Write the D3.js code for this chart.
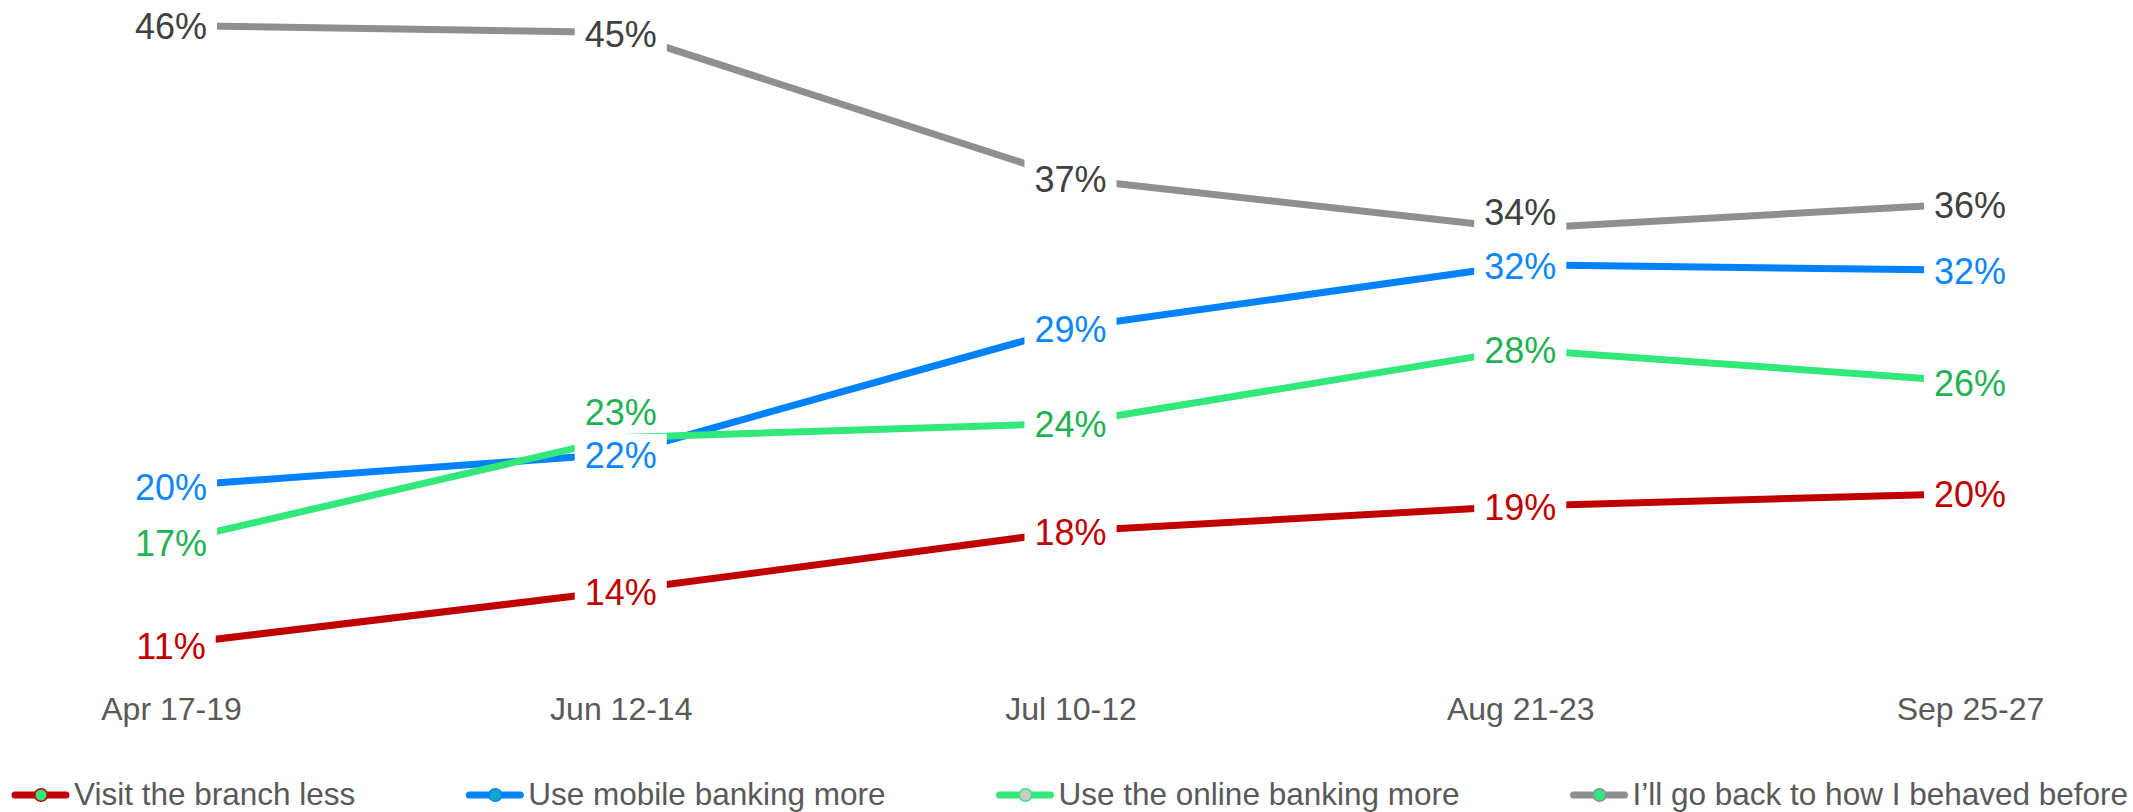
<!DOCTYPE html>
<html>
<head>
<meta charset="utf-8">
<script src="https://cdn.jsdelivr.net/npm/d3@7"></script>
<style>
  html, body { margin: 0; padding: 0; background: #ffffff; }
  svg { display: block; }
  text { font-family: Arial, "Liberation Sans", sans-serif; }
</style>
</head>
<body>
<svg id="chart" width="2133" height="812"></svg>
<script>
// ---- data ----
const categories = ["Apr 17-19", "Jun 12-14", "Jul 10-12", "Aug 21-23", "Sep 25-27"];
const seriesNames = ["Visit the branch less", "Use mobile banking more", "Use the online banking more", "I\u2019ll go back to how I behaved before"];
const visitBranchLess = [11.3, 14.3, 17.6, 19.0, 19.7];
const useMobileMore   = [20.1, 21.9, 28.9, 32.4, 32.1];
const useOnlineMore   = [17.0, 22.8, 23.6, 27.7, 25.9];
const goBackBefore    = [45.7, 45.3, 37.2, 34.4, 35.8];

// ---- styles ----
const lineColors  = ["#C00000", "#0082FF", "#33E87A", "#8F8F8F"];
const labelColors = ["#C00000", "#0D86F7", "#1EB252", "#404040"];
const markerFill  = ["#33E87A", "#17A6C8", "#C9C9C9", "#33E87A"];
// manual label nudges (series index -> point index -> dy)
const labelNudge = { 2: { 1: -27 }, 3: { 3: -17.5 } };

const seriesValues = [visitBranchLess, useMobileMore, useOnlineMore, goBackBefore];

const svg = d3.select("#chart");
const x = d3.scalePoint().domain(categories).range([171, 1970]);
const y = d3.scaleLinear().domain([0, 50]).range([848, -52]);

// x axis labels
const xAxis = d3.axisBottom(x).tickSize(0).tickPadding(3);
const gx = svg.append("g").attr("transform", "translate(0,694)").call(xAxis);
gx.select(".domain").remove();
gx.selectAll("text")
  .attr("font-size", "32px")
  .attr("fill", "#595959")
  .style("font-family", "Arial, 'Liberation Sans', sans-serif");

// lines
const line = d3.line().x((d, i) => x(categories[i])).y(d => y(d));
seriesValues.forEach((vals, s) => {
  svg.append("path")
    .datum(vals)
    .attr("d", line)
    .attr("fill", "none")
    .attr("stroke", lineColors[s])
    .attr("stroke-width", 7)
    .attr("stroke-linejoin", "round");
});

// data labels with white background
const fmt = v => Math.round(v) + "%";
seriesValues.forEach((vals, s) => {
  vals.forEach((v, i) => {
    const cx = x(categories[i]);
    const nudge = (labelNudge[s] && labelNudge[s][i]) || 0;
    const cy = y(v) + 1 + nudge;
    const g = svg.append("g");
    const rect = g.append("rect").attr("fill", "#ffffff");
    const t = g.append("text")
      .attr("x", cx)
      .attr("y", cy + 12.9)
      .attr("text-anchor", "middle")
      .attr("font-size", "36px")
      .attr("fill", labelColors[s])
      .text(fmt(v));
    const w = t.node().getComputedTextLength();
    rect.attr("x", cx - w / 2 - 10).attr("y", cy - 21).attr("width", w + 20).attr("height", 42);
  });
});

// legend
const legend = svg.append("g");
let lx = 12;
const ly = 795;
seriesNames.forEach((name, s) => {
  const g = legend.append("g");
  g.append("line")
    .attr("x1", lx + 3).attr("x2", lx + 54)
    .attr("y1", ly).attr("y2", ly)
    .attr("stroke", lineColors[s])
    .attr("stroke-width", 7)
    .attr("stroke-linecap", "round");
  g.append("circle")
    .attr("cx", lx + 29).attr("cy", ly).attr("r", 6.3)
    .attr("fill", markerFill[s])
    .attr("stroke", lineColors[s])
    .attr("stroke-width", 1.6);
  const t = g.append("text")
    .attr("x", lx + 62)
    .attr("y", 805)
    .attr("font-size", "31.5px")
    .attr("fill", "#595959")
    .text(name);
  const w = t.node().getComputedTextLength();
  lx = lx + 62 + w + 111;
});
</script>
</body>
</html>
